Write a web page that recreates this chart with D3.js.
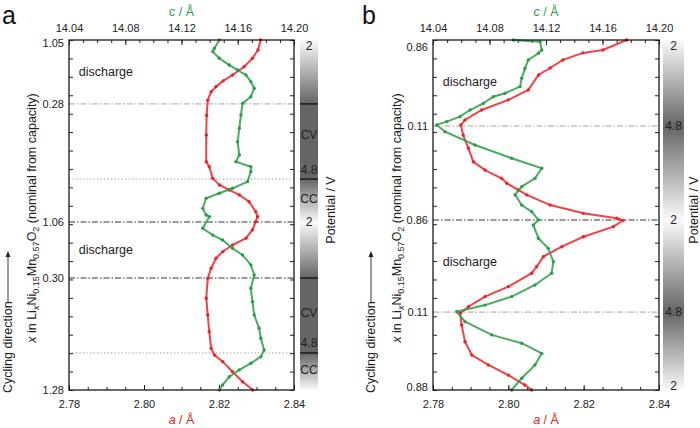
<!DOCTYPE html>
<html>
<head>
<meta charset="utf-8">
<script src="https://cdn.jsdelivr.net/npm/d3@7"></script>
<style>
  body { margin: 0; background: #fff; }
  svg { display: block; font-family: "Liberation Sans", Arial, sans-serif; }
  .tick text { font-size: 11px; fill: #222; }
  .tick line { stroke: #222; stroke-width: 1; }
</style>
</head>
<body>
<div id="chart"></div>
<script>
// progress along the measurement: 0 = start (bottom), 19 = end (top)
// panel a, [progress, a / Å]
const redA = [[19.0,2.8311],[18.46,2.8304],[18.0,2.8289],[17.55,2.8267],[17.10,2.8236],[16.78,2.8211],[16.47,2.8192],[16.19,2.8179],[15.73,2.8170],
  [14.9,2.8167],[13.84,2.8166],[12.39,2.8166],[12.12,2.8174],[11.49,2.8183],[11.13,2.8201],[10.86,2.8227],[10.59,2.8254],[10.22,2.8280],
  [9.68,2.8298],[9.41,2.8303],[9.14,2.8298],[8.69,2.8289],[8.24,2.8272],[7.87,2.8236],[7.51,2.8210],[7.15,2.8192],[6.61,2.8179],[6.06,2.8170],
  [4.98,2.8166],[4.07,2.8170],[3.17,2.8174],[2.26,2.8179],[1.90,2.8188],[1.54,2.8210],[0.99,2.8236],[0.45,2.8263],[0,2.8290]];
// panel a, [progress, c / Å]
const greenA = [[19.0,14.1469],[18.55,14.1434],[18.37,14.1422],[18.01,14.1469],[17.64,14.1540],[17.37,14.1599],[17.10,14.1658],[16.74,14.1693],
  [16.38,14.1717],[15.92,14.1693],[15.56,14.1634],[14.93,14.1623],[14.21,14.1611],[13.48,14.1599],[12.76,14.1611],[12.39,14.1587],[12.12,14.1693],
  [11.85,14.1693],[11.31,14.1669],[10.95,14.1563],[10.68,14.1469],[10.41,14.1375],[9.86,14.1351],[9.50,14.1375],[9.41,14.1398],[8.78,14.1351],
  [8.41,14.1422],[8.14,14.1492],[7.69,14.1563],[7.33,14.1634],[6.79,14.1693],[6.24,14.1717],[5.52,14.1693],[4.79,14.1705],[4.07,14.1717],
  [3.35,14.1752],[2.81,14.1764],[2.17,14.1788],[1.81,14.1764],[1.45,14.1693],[1.09,14.1611],[0.72,14.1540],[0.27,14.1492],[0,14.1469]];
// panel b, [progress, a / Å]
const redB = [[19.0,2.8314],[18.46,2.8251],[18.30,2.8198],[17.92,2.8145],[17.48,2.8111],[17.10,2.8080],[16.29,2.8053],[15.75,2.8000],[15.20,2.7929],
  [14.66,2.7885],[14.39,2.7874],[13.84,2.7880],[13.12,2.7894],[12.39,2.7907],[11.94,2.7938],[11.49,2.7982],[11.22,2.7996],[10.86,2.8026],[10.59,2.8049],
  [10.04,2.8111],[9.59,2.8199],[9.32,2.8288],[9.21,2.8305],[8.87,2.8279],[8.32,2.8199],[7.78,2.8142],[7.24,2.8093],[6.69,2.8075],[6.34,2.8062],
  [5.61,2.8000],[5.07,2.7938],[4.52,2.7894],[4.16,2.7872],[3.53,2.7876],[2.62,2.7885],[1.90,2.7903],[1.36,2.7947],[0.81,2.8000],[0.27,2.8044],[0,2.8062]];
// panel b, [progress, c / Å]
const greenB = [[19.0,14.0969],[18.91,14.1158],[18.46,14.1170],[18.28,14.1146],[17.92,14.1075],[17.46,14.1051],[16.92,14.1028],[16.47,14.1016],
  [16.11,14.0910],[15.92,14.0827],[15.56,14.0756],[15.20,14.0662],[14.84,14.0591],[14.57,14.0497],[14.39,14.0426],[14.02,14.0485],[13.30,14.0697],
  [12.58,14.0957],[12.04,14.1170],[11.49,14.1122],[11.04,14.1028],[10.59,14.0981],[10.04,14.1028],[9.68,14.1099],[9.23,14.1146],[8.96,14.1110],
  [8.24,14.1146],[7.69,14.1216],[6.97,14.1252],[6.34,14.1240],[5.70,14.1122],[5.07,14.0957],[4.61,14.0768],[4.25,14.0568],[3.71,14.0627],
  [2.99,14.0816],[2.54,14.1028],[1.99,14.1170],[1.36,14.1122],[0.64,14.1028],[0,14.0957]];

// axis ticks
const aMajor = [2.78, 2.80, 2.82, 2.84];
const aMinor = d3.range(0, 13).map(i => 2.78 + i * 0.005);
const cMajor = [14.04, 14.08, 14.12, 14.16, 14.20];
const cMinor = d3.range(0, 17).map(i => 14.04 + i * 0.01);
const progMinor = d3.range(0, 20);

// x (nominal) labels on the left axis
const yTickPosA = [18.85, 15.53, 9.12, 6.08, 0];
const yTickLabA = ["1.05", "0.28", "1.06", "0.30", "1.28"];
const yTickPosB = [18.6, 14.33, 9.23, 4.23, 0.15];
const yTickLabB = ["0.86", "0.11", "0.86", "0.11", "0.88"];

// potential profile
const barPosA = [19, 15.53, 11.45, 9.12, 6.08, 2.01, 0];
const barVoltA = [2, 4.8, 4.8, 2, 4.8, 4.8, 2];
const barPosB = [19, 14.33, 9.23, 4.23, 0];
const barVoltB = [2, 4.8, 2, 4.8, 2];
const barTextA = ["2", "CV", "4.8", "CC", "2", "CV", "4.8", "CC"];
const barTextPosA = [18.7, 13.84, 11.94, 10.37, 9.12, 4.18, 2.55, 1.09];
const barTextB = ["2", "4.8", "2", "4.8", "2"];
const barTextPosB = [18.7, 14.33, 9.23, 4.23, 0.2];
const barBreaksA = [15.53, 11.45, 6.08, 2.01];

// reference lines
const dashLightA = [15.53], dashDarkA = [9.12, 6.08], dottedA = [11.45, 2.01];
const dashLightB = [14.33, 4.23], dashDarkB = [9.23], dottedB = [];

const dischargeA = [17.26, 7.6];
const dischargeB = [16.72, 6.95];

const width = 700, height = 428;
const plotTop = 40, plotBottom = 390;
const red = "#ec2227", green = "#2b9e45";

const svg = d3.select("#chart").append("svg")
    .attr("width", width)
    .attr("height", height);
const defs = svg.append("defs");

let gray = d3.scaleLinear().domain([2, 4.8]).range(["#fafafa", "#656565"]);

function drawPanel(p) {
    let x = d3.scaleLinear().domain([2.78, 2.84]).range([p.left, p.right]);
    let xc = d3.scaleLinear().domain([14.04, 14.20]).range([p.left, p.right]);
    let y = d3.scaleLinear().domain([0, 19]).range([plotBottom, plotTop]);
    let g = svg.append("g");
    let midX = (p.left + p.right) / 2;

    // potential bar
    let grad = defs.append("linearGradient")
        .attr("id", "grad-" + p.name)
        .attr("gradientUnits", "userSpaceOnUse")
        .attr("x1", 0).attr("x2", 0)
        .attr("y1", y(19)).attr("y2", y(0));
    grad.selectAll("stop")
        .data(d3.zip(p.barPos, p.barVolt))
        .enter().append("stop")
        .attr("offset", d => (y(d[0]) - y(19)) / (y(0) - y(19)))
        .attr("stop-color", d => gray(d[1]));
    g.append("rect")
        .attr("x", p.barX).attr("width", p.barW)
        .attr("y", y(19)).attr("height", y(0) - y(19))
        .attr("fill", "url(#grad-" + p.name + ")");
    g.selectAll("line.brk").data(p.breaks).enter().append("line")
        .attr("x1", p.barX).attr("x2", p.barX + p.barW)
        .attr("y1", d => y(d)).attr("y2", d => y(d))
        .attr("stroke", "#111").attr("stroke-width", 1.3);
    g.selectAll("text.bar").data(p.barText).enter().append("text")
        .attr("x", p.barX + p.barW / 2)
        .attr("y", (d, i) => y(p.barTextPos[i]))
        .attr("text-anchor", "middle")
        .attr("dominant-baseline", "central")
        .style("font-size", "12px").style("fill", "#222")
        .text(d => d);

    // reference lines
    function refLines(list, color, dash, w) {
        g.selectAll(null).data(list).enter().append("line")
            .attr("x1", p.left).attr("x2", p.right)
            .attr("y1", d => y(d)).attr("y2", d => y(d))
            .attr("stroke", color).attr("stroke-width", w)
            .attr("stroke-dasharray", dash);
    }
    refLines(p.dashLight, "#999", "6,2,1.5,2", 0.9);
    refLines(p.dashDark, "#333", "6,2,1.5,2", 1);
    refLines(p.dotted, "#888", "1.2,2.3", 0.9);

    // axes
    g.append("g").attr("transform", `translate(${p.left},0)`)
        .call(d3.axisLeft(y).tickValues(progMinor).tickSize(-4).tickFormat(""));
    g.append("g").attr("transform", `translate(${p.right},0)`)
        .call(d3.axisRight(y).tickValues(progMinor).tickSize(-4).tickFormat(""));
    g.append("g").attr("transform", `translate(${p.left},0)`)
        .call(d3.axisLeft(y).tickValues(p.yTickPos).tickSize(0).tickPadding(5)
            .tickFormat((d, i) => p.yTickLab[i]));
    g.append("g").attr("transform", `translate(0,${plotBottom})`)
        .call(d3.axisBottom(x).tickValues(aMinor).tickSize(-3).tickFormat(""));
    g.append("g").attr("transform", `translate(0,${plotBottom})`)
        .call(d3.axisBottom(x).tickValues(aMajor).tickSize(-5).tickPadding(10).tickFormat(d3.format(".2f")));
    g.append("g").attr("transform", `translate(0,${plotTop})`)
        .call(d3.axisTop(xc).tickValues(cMinor).tickSize(-3).tickFormat(""));
    g.append("g").attr("transform", `translate(0,${plotTop})`)
        .call(d3.axisTop(xc).tickValues(cMajor).tickSize(-5).tickPadding(8).tickFormat(d3.format(".2f")));
    g.selectAll(".domain").remove();

    // curves
    let lineA = d3.line().x(d => x(d[1])).y(d => y(d[0]));
    let lineC = d3.line().x(d => xc(d[1])).y(d => y(d[0]));
    g.append("path").attr("d", lineA(p.red)).attr("fill", "none")
        .attr("stroke", red).attr("stroke-width", 2).attr("stroke-opacity", 0.85);
    g.selectAll(null).data(p.red).enter().append("circle")
        .attr("cx", d => x(d[1])).attr("cy", d => y(d[0])).attr("r", 1.7).attr("fill", red);
    g.append("path").attr("d", lineC(p.green)).attr("fill", "none")
        .attr("stroke", green).attr("stroke-width", 2).attr("stroke-opacity", 0.85);
    g.selectAll(null).data(p.green).enter().append("circle")
        .attr("cx", d => xc(d[1])).attr("cy", d => y(d[0])).attr("r", 1.7).attr("fill", green);

    // frame
    g.append("rect")
        .attr("x", p.left).attr("y", plotTop)
        .attr("width", p.right - p.left).attr("height", plotBottom - plotTop)
        .attr("fill", "none").attr("stroke", "#1a1a1a").attr("stroke-width", 1.3);

    // annotations
    g.selectAll(null).data(p.discharge).enter().append("text")
        .attr("x", x(2.7826)).attr("y", d => y(d))
        .attr("dominant-baseline", "central")
        .style("font-size", "12.5px").style("fill", "#222")
        .text("discharge");

    // titles
    let ct = g.append("text").attr("x", midX).attr("y", 16)
        .attr("text-anchor", "middle").style("font-size", "12.5px").style("fill", green);
    ct.append("tspan").style("font-style", "italic").text("c");
    ct.append("tspan").text(" / Å");
    let at = g.append("text").attr("x", midX).attr("y", 424)
        .attr("text-anchor", "middle").style("font-size", "12.5px").style("fill", red);
    at.append("tspan").style("font-style", "italic").text("a");
    at.append("tspan").text(" / Å");

    g.append("text")
        .attr("transform", `translate(${p.potX},210) rotate(-90)`)
        .attr("text-anchor", "middle")
        .style("font-size", "12.5px").style("fill", "#222")
        .text("Potential / V");

    let yt = g.append("text")
        .attr("transform", `translate(${p.titleX},218) rotate(-90)`)
        .attr("text-anchor", "middle")
        .style("font-size", "12.5px").style("fill", "#222");
    yt.append("tspan").style("font-style", "italic").text("x");
    yt.append("tspan").text(" in Li");
    yt.append("tspan").attr("dy", 3).style("font-size", "9px").style("font-style", "italic").text("x");
    yt.append("tspan").attr("dy", -3).text("Ni");
    yt.append("tspan").attr("dy", 3).style("font-size", "9px").text("0.15");
    yt.append("tspan").attr("dy", -3).text("Mn");
    yt.append("tspan").attr("dy", 3).style("font-size", "9px").text("0.57");
    yt.append("tspan").attr("dy", -3).text("O");
    yt.append("tspan").attr("dy", 3).style("font-size", "9px").text("2");
    yt.append("tspan").attr("dy", -3).text(" (nominal from capacity)");

    g.append("text")
        .attr("transform", `translate(${p.cycX},393) rotate(-90)`)
        .style("font-size", "12.5px").style("fill", "#222")
        .text("Cycling direction");
    g.append("line")
        .attr("x1", p.cycX - 4).attr("x2", p.cycX - 4)
        .attr("y1", 302).attr("y2", 253)
        .attr("stroke", "#222").attr("stroke-width", 0.9);
    g.append("path")
        .attr("d", `M${p.cycX - 4},251 l-2.5,6 l5,0 z`)
        .attr("fill", "#222");

    svg.append("text").attr("x", p.letterX).attr("y", 24)
        .style("font-size", "25px").style("fill", "#111")
        .text(p.name);
}

drawPanel({
    name: "a", left: 69, right: 294, barX: 300, barW: 18,
    potX: 335, titleX: 36, cycX: 12, letterX: 2,
    red: redA, green: greenA,
    yTickPos: yTickPosA, yTickLab: yTickLabA,
    barPos: barPosA, barVolt: barVoltA, barText: barTextA, barTextPos: barTextPosA, breaks: barBreaksA,
    dashLight: dashLightA, dashDark: dashDarkA, dotted: dottedA, discharge: dischargeA
});
drawPanel({
    name: "b", left: 433, right: 659, barX: 663, barW: 21,
    potX: 698, titleX: 401, cycX: 375, letterX: 362,
    red: redB, green: greenB,
    yTickPos: yTickPosB, yTickLab: yTickLabB,
    barPos: barPosB, barVolt: barVoltB, barText: barTextB, barTextPos: barTextPosB, breaks: [],
    dashLight: dashLightB, dashDark: dashDarkB, dotted: dottedB, discharge: dischargeB
});
</script>
</body>
</html>
